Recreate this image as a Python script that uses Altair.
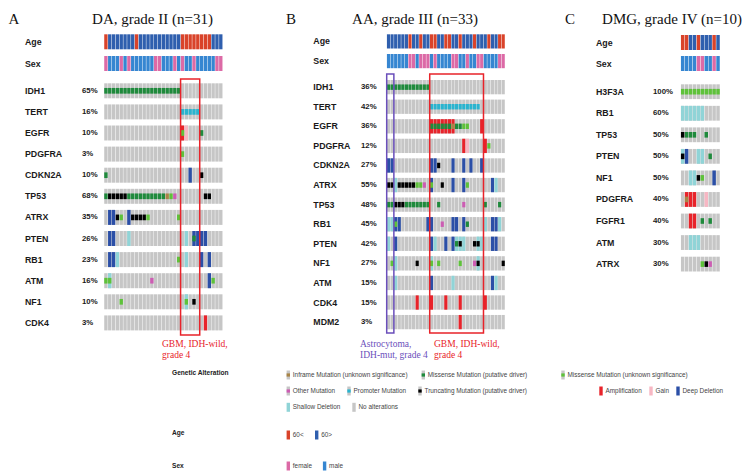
import altair as alt
import pandas as pd

# ======================= DATA =======================
CODE_NAMES = {
    "I": "Inframe Mutation (unknown significance)",
    "M": "Missense Mutation (putative driver)",
    "m": "Missense Mutation (unknown significance)",
    "O": "Other Mutation",
    "P": "Promoter Mutation",
    "T": "Truncating Mutation (putative driver)",
    "A": "Amplification",
    "G": "Gain",
    "D": "Deep Deletion",
    "S": "Shallow Deletion",
}
AGE_NAMES = {"O": "60<", "Y": "60>"}
SEX_NAMES = {"F": "female", "M": "male"}

# ---- Panel A ----
A_LETTER = "A"
A_TITLE = "DA, grade II (n=31)"
A_GENES = ["IDH1", "TERT", "EGFR", "PDGFRA", "CDKN2A", "TP53", "ATRX", "PTEN", "RB1", "ATM", "NF1", "CDK4"]
A_PCT = ["65%", "16%", "10%", "3%", "10%", "68%", "35%", "26%", "23%", "16%", "10%", "3%"]
A_AGE = "OYYYYYYYOY" "YYYYYYYYYY" "OOOOOOOOYY" "Y"
A_SEX = "FMMMFMFMMM" "MMMFFMMMFM" "FMMFMMMMMF" "F"
A_CNA = {
    "EGFR":   ".........." ".........." "AG........" ".",
    "CDKN2A": ".........." ".........." "..D......." ".",
    "ATRX":   ".DD...D..." ".........." ".........." ".",
    "PTEN":   ".DD...S..." ".........." ".S.DDDD..." ".",
    "RB1":    ".DDS......" ".........." ".S...D.D.." ".",
    "ATM":    ".S........" ".........." ".......D.." ".",
    "NF1":    ".........." ".........." ".S........" ".",
    "CDK4":   ".........." ".........." "......A..." ".",
}
A_MUT = {
    "IDH1":   "MMMMMMMMMM" "MMMMMMMMMM" ".........." ".",
    "TERT":   ".........." ".........." "PPPPP....." ".",
    "EGFR":   ".........." ".........." "m....M...." ".",
    "PDGFRA": ".........." ".........." "m........." ".",
    "CDKN2A": "M........." ".........." ".....T...." ".",
    "TP53":   "MTTTTTMMMM" "MMMMMMImO." "......TT.." ".",
    "ATRX":   "...Tm..TTT" "Tm.......m" ".........." ".",
    "PTEN":   ".........." ".........." "...M......" ".",
    "RB1":    ".........." ".........m" ".........." ".",
    "ATM":    "mm........" "..O......." "........m." ".",
    "NF1":    "....m....." ".........." ".m.T......" ".",
}
A_GROUPS = [("GBM", ["GBM, IDH-wild,", "grade 4"], 20, 24)]

# ---- Panel B ----
B_LETTER = "B"
B_TITLE = "AA, grade III (n=33)"
B_GENES = ["IDH1", "TERT", "EGFR", "PDGFRA", "CDKN2A", "ATRX", "TP53", "RB1", "PTEN", "NF1", "ATM", "CDK4", "MDM2"]
B_PCT = ["36%", "42%", "36%", "12%", "27%", "55%", "48%", "45%", "42%", "27%", "15%", "15%", "3%"]
B_AGE = "YYYYYYOYYO" "YYOOYYOOYY" "OYYYOYYYOY" "YOO"
B_SEX = "MMMMMMFFMF" "FFMFMMMMFF" "MMFMMFFMMM" "MFF"
B_CNA = {
    "EGFR":   ".........." "..AAAAAAA." "......A..." "...",
    "PDGFRA": ".........." ".........." ".AG....A.." "...",
    "CDKN2A": "DD........" "..DD....D." ".D.D..D..." "...",
    "ATRX":   "..S......." "..D.....D." ".D.......D" "S..",
    "RB1":    "SSDD......" ".DD.....DD" ".D.....S.D" "DS.",
    "PTEN":   "S.D......." "..DS..D.DS" "SS...SS..D" "D..",
    "NF1":    "..S......." "..S......." ".....S...." "...",
    "ATM":    "..S......." "..D.....S." ".........D" "S..",
    "CDK4":   "........A." "..A...A..." "A......A.." "...",
    "MDM2":   ".........." ".........." "A........." "...",
}
B_MUT = {
    "IDH1":   "MMMMMMMMMM" "MM........" ".........." "...",
    "TERT":   ".........." "..PPPPPPPP" "PPPPPP...." "...",
    "EGFR":   ".........." "..MMMMMMIM" "Mmm......." "...",
    "PDGFRA": ".........." ".........." "........m." "...",
    "CDKN2A": ".........." "....T....." ".........." "...",
    "ATRX":   "TT.TTTTTmm" "O.m..T...." "..m......." "...",
    "TP53":   "MMTTTMMMMM" "MM..M....." ".O.....M.." ".M.",
    "RB1":    "..m......." ".....O...." "..M......." "...",
    "PTEN":   ".........." ".........M" "T...TT...." "...",
    "NF1":    ".m......T." "..m.m....." "m...OT...." "..T",
}
B_GROUPS = [("AST", ["Astrocytoma,", "IDH-mut, grade 4"], 0, 1),
            ("GBM", ["GBM, IDH-wild,", "grade 4"], 12, 26)]

# ---- Panel C ----
C_LETTER = "C"
C_TITLE = "DMG, grade IV (n=10)"
C_GENES = ["H3F3A", "RB1", "TP53", "PTEN", "NF1", "PDGFRA", "FGFR1", "ATM", "ATRX"]
C_PCT = ["100%", "60%", "50%", "50%", "50%", "40%", "40%", "30%", "30%"]
C_AGE = "OOYYOYYYOY"
C_SEX = "MMMMFFMMFM"
C_CNA = {
    "RB1": "SSSSSS....",
    "PTEN": "SD..SS....",
    "NF1": "..SS....D.",
    "PDGFRA": ".AAA..G...",
    "FGFR1": "..AA......",
    "ATM": "..SSS.....",
}
C_MUT = {
    "H3F3A": "mmmmmmmmmm",
    "TP53": "TMMM..M...",
    "PTEN": "T......M..",
    "NF1": "....Tm....",
    "PDGFRA": ".I........",
    "FGFR1": ".....M.M..",
    "ATRX": ".....mTO..",
}
C_GROUPS = []

# ---- Legend ----
LEGEND_TITLE_ALT = "Genetic Alteration"
LEGEND_ALT = ["Inframe Mutation (unknown significance)", "Missense Mutation (putative driver)",
              "Missense Mutation (unknown significance)", "Other Mutation", "Promoter Mutation",
              "Truncating Mutation (putative driver)", "Amplification", "Gain", "Deep Deletion",
              "Shallow Deletion", "No alterations"]
LEGEND_TITLE_AGE = "Age"
LEGEND_AGE = ["60<", "60>"]
LEGEND_TITLE_SEX = "Sex"
LEGEND_SEX = ["female", "male"]

# ======================= STYLE / LAYOUT =======================
SANS = "Liberation Sans"
SERIF = "Liberation Serif"
OFF = 8
W, H = 740, 464
XG = 0.06          # fraction of a column left blank on each side
MUT_FRAC = 0.38    # mutation mark height as fraction of the cell

ALT_COLORS = {
    "Inframe Mutation (unknown significance)": "#a88446",
    "Missense Mutation (putative driver)": "#1f8a3c",
    "Missense Mutation (unknown significance)": "#5ec23a",
    "Other Mutation": "#cc5db3",
    "Promoter Mutation": "#2ab4cf",
    "Truncating Mutation (putative driver)": "#000000",
    "Amplification": "#e8232a",
    "Gain": "#f7b7c3",
    "Deep Deletion": "#2b4fa7",
    "Shallow Deletion": "#90d4d7",
    "No alterations": "#c6c6c6",
}
MUT_TYPES = {CODE_NAMES[c] for c in "IMmOPT"}
AGE_COLORS = {"60<": "#d9432a", "60>": "#2f5fae"}
SEX_COLORS = {"female": "#dc6aa6", "male": "#3686d1"}
GROUP_COLORS = {"GBM": "#e8232a", "AST": "#6b4fbb"}

PANEL_LAYOUT = {
    "A": dict(x0=104.0, x1=222.7, clin_top=34.3, clin_pitch=21.7, clin_band=15.0,
              gene_top=83.3, gene_pitch=21.1, gene_band=15.0,
              label_x=25, pct_x=82, letter_x=8.5, title_cx=152.5, box_top=79, box_bot=335,
              annot=[(162, 339)]),
    "B": dict(x0=386.7, x1=505.0, clin_top=34.3, clin_pitch=19.7, clin_band=14.2,
              gene_top=80.0, gene_pitch=19.58, gene_band=14.3,
              label_x=313.3, pct_x=361, letter_x=286, title_cx=415, box_top=74, box_bot=333,
              annot=[(360, 339), (434, 339)]),
    "C": dict(x0=680.7, x1=720.0, clin_top=35.0, clin_pitch=21.0, clin_band=15.0,
              gene_top=84.3, gene_pitch=21.55, gene_band=14.8,
              label_x=596, pct_x=653, letter_x=565, title_cx=672, box_top=80, box_bot=276,
              annot=[]),
}
TITLE_SIZE = 15
TITLE_MID_Y = 18.5

LEG_TITLE_X = 172
LEG_FONT = 6.4
LEG_ALT_POS = [(288.3, 375), (423.3, 375), (563, 375),
               (288.3, 391), (349, 391), (420, 391), (601, 391), (651, 391), (678, 391),
               (288.3, 407.3), (354, 407.3)]
LEG_AGE_POS = [(288.3, 435), (316.7, 435)]
LEG_SEX_POS = [(288.3, 466), (324.6, 466)]
LEG_TITLE_Y = {"alt": 373, "age": 433, "sex": 466}


# ======================= BUILDERS =======================
def yscale(top, pitch, band, rows):
    s = top - (pitch - band) / 2 - OFF
    return alt.Scale(domain=[0, rows], range=[s, s + rows * pitch], zero=False, nice=False), s


def rect_layer(df, xsc, ysc, gfrac, frac=None):
    if frac is None:
        ya, yb = f"datum.r + {gfrac}", f"datum.r + 1 - {gfrac}"
    else:
        h = frac * (1 - 2 * gfrac) / 2
        ya, yb = f"datum.r + 0.5 - {h}", f"datum.r + 0.5 + {h}"
    return alt.Chart(df).transform_calculate(
        xa=f"datum.i + {XG}", xb=f"datum.i + 1 - {XG}", ya=ya, yb=yb
    ).mark_rect().encode(
        x=alt.X("xa:Q", scale=xsc, axis=None), x2="xb:Q",
        y=alt.Y("ya:Q", scale=ysc, axis=None), y2="yb:Q",
        color=alt.Color("color:N", scale=None),
    )


def row_text(df, ysc, x, field, size):
    return alt.Chart(df).transform_calculate(yc="datum.r + 0.5").mark_text(
        align="left", baseline="middle", font=SANS, fontSize=size, fontWeight="bold", color="#1a1a1a"
    ).encode(x=alt.value(x - OFF), y=alt.Y("yc:Q", scale=ysc, axis=None), text=f"{field}:N")


def free_text(text, x, y, font, size, color, weight="normal", align="left", baseline="middle", line_height=None):
    kw = dict(text=text, font=font, fontSize=size, color=color, fontWeight=weight, align=align, baseline=baseline)
    if line_height is not None:
        kw["lineHeight"] = line_height
    return alt.Chart(alt.Data(values=[{"k": 0}])).mark_text(**kw).encode(
        x=alt.value(x - OFF), y=alt.value(y - OFF))


def build_panel(key, letter, title, genes, pct, age, sex, cna, mut, groups):
    L = PANEL_LAYOUT[key]
    n = len(age)
    G = len(genes)
    xsc = alt.Scale(domain=[0, n], range=[L["x0"] - OFF, L["x1"] - OFF], zero=False, nice=False)

    # clinical tracks
    ysc_c, _ = yscale(L["clin_top"], L["clin_pitch"], L["clin_band"], 2)
    gc = (L["clin_pitch"] - L["clin_band"]) / 2 / L["clin_pitch"]
    clin_rows = [{"r": 0, "i": i, "color": AGE_COLORS[AGE_NAMES[c]]} for i, c in enumerate(age)]
    clin_rows += [{"r": 1, "i": i, "color": SEX_COLORS[SEX_NAMES[c]]} for i, c in enumerate(sex)]
    clin_df = pd.DataFrame(clin_rows)
    clin_lab = pd.DataFrame({"r": [0, 1], "name": ["Age", "Sex"]})
    clin = alt.layer(rect_layer(clin_df, xsc, ysc_c, gc), row_text(clin_lab, ysc_c, L["label_x"], "name", 8.8))

    # gene tracks
    ysc_g, ystart = yscale(L["gene_top"], L["gene_pitch"], L["gene_band"], G)
    gg = (L["gene_pitch"] - L["gene_band"]) / 2 / L["gene_pitch"]
    bg = pd.DataFrame([{"r": r, "i": i, "color": ALT_COLORS["No alterations"]} for r in range(G) for i in range(n)])
    cna_rows, mut_rows = [], []
    for r, g in enumerate(genes):
        for i, c in enumerate(cna.get(g, "")):
            if c != ".":
                cna_rows.append({"r": r, "i": i, "color": ALT_COLORS[CODE_NAMES[c]]})
        for i, c in enumerate(mut.get(g, "")):
            if c != ".":
                mut_rows.append({"r": r, "i": i, "color": ALT_COLORS[CODE_NAMES[c]]})
    labs = pd.DataFrame({"r": list(range(G)), "gene": genes, "pct": pct})
    layers = [rect_layer(bg, xsc, ysc_g, gg)]
    if cna_rows:
        layers.append(rect_layer(pd.DataFrame(cna_rows), xsc, ysc_g, gg))
    if mut_rows:
        layers.append(rect_layer(pd.DataFrame(mut_rows), xsc, ysc_g, gg, MUT_FRAC))
    layers.append(row_text(labs, ysc_g, L["label_x"], "gene", 8.8))
    layers.append(row_text(labs, ysc_g, L["pct_x"], "pct", 7.8))
    if groups:
        ya = (L["box_top"] - OFF - ystart) / L["gene_pitch"]
        yb = (L["box_bot"] - OFF - ystart) / L["gene_pitch"]
        box_df = pd.DataFrame([{"start": s, "end": e, "color": GROUP_COLORS[k]} for k, _, s, e in groups])
        layers.append(alt.Chart(box_df).transform_calculate(
            xa="datum.start", xb="datum.end + 1", ya=f"{ya}", yb=f"{yb}"
        ).mark_rect(fillOpacity=0, strokeWidth=1.5).encode(
            x=alt.X("xa:Q", scale=xsc, axis=None), x2="xb:Q",
            y=alt.Y("ya:Q", scale=ysc_g, axis=None), y2="yb:Q",
            stroke=alt.Stroke("color:N", scale=None),
        ))
    genes_layer = alt.layer(*layers)

    out = [clin, genes_layer]
    out.append(free_text(letter, L["letter_x"], TITLE_MID_Y, SERIF, TITLE_SIZE, "#111111"))
    out.append(free_text(title, L["title_cx"], TITLE_MID_Y, SERIF, TITLE_SIZE, "#111111", align="center"))
    for (k, lines, s, e), (ax, ay) in zip(groups, L["annot"]):
        out.append(free_text(lines, ax, ay, SERIF, 9.5, GROUP_COLORS[k], baseline="top", line_height=11))
    return out


def legend_layers():
    rows = []
    for lab, (x, y) in zip(LEGEND_ALT, LEG_ALT_POS):
        rows.append({"label": lab, "color": ALT_COLORS[lab], "mut": lab in MUT_TYPES, "x": x, "y": y})
    for lab, (x, y) in zip(LEGEND_AGE, LEG_AGE_POS):
        rows.append({"label": lab, "color": AGE_COLORS[lab], "mut": False, "x": x, "y": y})
    for lab, (x, y) in zip(LEGEND_SEX, LEG_SEX_POS):
        rows.append({"label": lab, "color": SEX_COLORS[lab], "mut": False, "x": x, "y": y})
    df = pd.DataFrame(rows)
    df["sx0"] = df["x"] - 1.7 - OFF
    df["sx1"] = df["x"] + 1.7 - OFF
    df["sy0"] = df["y"] - 4.5 - OFF
    df["sy1"] = df["y"] + 4.5 - OFF
    df["my0"] = df["y"] - 1.6 - OFF
    df["my1"] = df["y"] + 1.6 - OFF
    df["tx"] = df["x"] + 4.5 - OFF
    df["ty"] = df["y"] - OFF
    df["bgc"] = [ALT_COLORS["No alterations"] if m else c for m, c in zip(df["mut"], df["color"])]
    base = alt.Chart(df)
    sw = base.mark_rect().encode(
        x=alt.X("sx0:Q", scale=None), x2="sx1:Q", y=alt.Y("sy0:Q", scale=None), y2="sy1:Q",
        color=alt.Color("bgc:N", scale=None))
    inner = alt.Chart(df[df["mut"]]).mark_rect().encode(
        x=alt.X("sx0:Q", scale=None), x2="sx1:Q", y=alt.Y("my0:Q", scale=None), y2="my1:Q",
        color=alt.Color("color:N", scale=None))
    txt = base.mark_text(align="left", baseline="middle", font=SANS, fontSize=LEG_FONT, color="#444444").encode(
        x=alt.X("tx:Q", scale=None), y=alt.Y("ty:Q", scale=None), text="label:N")
    out = [sw, inner, txt]
    out.append(free_text(LEGEND_TITLE_ALT, LEG_TITLE_X, LEG_TITLE_Y["alt"], SANS, 6.6, "#222222", weight="bold"))
    out.append(free_text(LEGEND_TITLE_AGE, LEG_TITLE_X, LEG_TITLE_Y["age"], SANS, 6.6, "#222222", weight="bold"))
    out.append(free_text(LEGEND_TITLE_SEX, LEG_TITLE_X, LEG_TITLE_Y["sex"], SANS, 6.6, "#222222", weight="bold"))
    return out


all_layers = []
all_layers += build_panel("A", A_LETTER, A_TITLE, A_GENES, A_PCT, A_AGE, A_SEX, A_CNA, A_MUT, A_GROUPS)
all_layers += build_panel("B", B_LETTER, B_TITLE, B_GENES, B_PCT, B_AGE, B_SEX, B_CNA, B_MUT, B_GROUPS)
all_layers += build_panel("C", C_LETTER, C_TITLE, C_GENES, C_PCT, C_AGE, C_SEX, C_CNA, C_MUT, C_GROUPS)
all_layers += legend_layers()

chart = alt.layer(*all_layers).resolve_scale(
    x="independent", y="independent"
).properties(
    width=W, height=H, padding=0, background="white",
    autosize=alt.AutoSizeParams(type="none"),
).configure_view(stroke=None)

chart.save("out.html", embed_options={"renderer": "svg", "actions": False})
